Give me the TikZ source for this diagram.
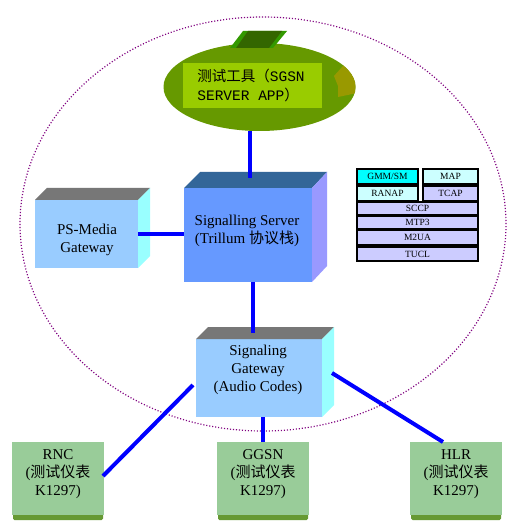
\documentclass[tikz,border=0pt]{standalone}
\usepackage{fontspec}
\setmainfont{Liberation Serif}
\newfontfamily\cjk{Noto Sans CJK SC}
\newfontfamily\monof{Liberation Mono}
\usetikzlibrary{shapes.geometric,calc}
\definecolor{ringcol}{HTML}{800080}
\definecolor{appgreen}{HTML}{669900}
\definecolor{paddark}{HTML}{336600}
\definecolor{padside}{HTML}{339900}
\definecolor{olive}{HTML}{999900}
\definecolor{applbl}{HTML}{99CC00}
\definecolor{ssfront}{HTML}{6699FF}
\definecolor{sstop}{HTML}{336699}
\definecolor{ssside}{HTML}{9999FF}
\definecolor{gwfront}{HTML}{99CCFF}
\definecolor{gwtop}{HTML}{777777}
\definecolor{gwside}{HTML}{99FFFF}
\definecolor{boxgreen}{HTML}{99CC99}
\definecolor{stripgreen}{HTML}{669933}
\definecolor{linkblue}{HTML}{0000FF}
\definecolor{stkcyan}{HTML}{00FFFF}
\definecolor{stklcyan}{HTML}{CCFFFF}
\definecolor{stklav}{HTML}{CCCCFF}
\tikzset{
  face/.style={inner sep=0pt, outer sep=0pt},
  lbl/.style={align=center, font=\fontsize{15bp}{18bp}\selectfont, inner sep=0pt},
  link/.style={draw=linkblue, line width=4bp},
  stk/.style={draw=black, line width=1.1bp, inner sep=0pt, outer sep=0pt, font=\fontsize{9.5bp}{10bp}\selectfont},
}
\begin{document}
\begin{tikzpicture}[x=1bp,y=-1bp]
\useasboundingbox (0,0) rectangle (528,527);
\fill[white] (0,0) rectangle (528,527);

% dotted ring
\node[ellipse, draw=ringcol, line width=1.2bp, dash pattern=on 1.1bp off 1.9bp,
      minimum width=486bp, minimum height=414bp, inner sep=0pt] (ring) at (263,224) {};

% application ellipse
\node[ellipse, fill=appgreen, minimum width=192bp, minimum height=88bp, inner sep=0pt] (app) at (259.5,87) {};
\fill[padside] (243,31) -- (287,31) -- (273,48) -- (230,48) -- cycle;
\fill[paddark] (248,31) -- (282,31) -- (269,48) -- (236,48) -- cycle;
\begin{scope}
  \clip (app.center) ellipse [x radius=96, y radius=44];
  \fill[olive] (334,76) -- (351,57) -- (362,68) -- (362,92) -- (338,97) -- (338,86) -- cycle;
\end{scope}
\node[fill=applbl, minimum width=139bp, minimum height=45bp, inner sep=0pt] (applabel) at (252.5,85.5) {};
\node[align=left, inner sep=0pt, font=\fontsize{14.5bp}{19bp}\selectfont] (apptext) at (251,85)
  {{\cjk 测试工具（}\monof SGSN\\\monof SERVER APP{\cjk ）}};

% Signalling Server
\node[face, fill=ssfront, minimum width=128bp, minimum height=94bp] (ss) at (248,235) {};
\fill[sstop] (ss.north west) -- ++(16,-16) -- ($(ss.north east)+(15,-16)$) -- (ss.north east) -- cycle;
\fill[ssside] (ss.north east) -- ++(15,-16) -- ++(0,94) -- (ss.south east) -- cycle;
\node[lbl] (sstext) at (247,231) {Signalling Server\\(Trillum {\cjk 协议栈})};

% PS-Media Gateway
\node[face, fill=gwfront, minimum width=103bp, minimum height=68bp] (psm) at (86.5,234) {};
\fill[gwtop] (psm.north west) -- ++(12,-12) -- ($(psm.north east)+(12,-12)$) -- (psm.north east) -- cycle;
\fill[gwside] (psm.north east) -- ++(12,-12) -- ++(0,68) -- (psm.south east) -- cycle;
\node[lbl] (psmtext) at (87,240) {PS-Media\\Gateway};

% Signaling Gateway
\node[face, fill=gwfront, minimum width=126bp, minimum height=78bp] (sg) at (259,378) {};
\fill[gwtop] (sg.north west) -- ++(12,-12) -- ($(sg.north east)+(12,-12)$) -- (sg.north east) -- cycle;
\fill[gwside] (sg.north east) -- ++(12,-12) -- ++(0,78) -- (sg.south east) -- cycle;
\node[lbl] (sgtext) at (258,370) {Signaling\\Gateway\\(Audio Codes)};

% bottom boxes
\foreach \nm/\cx/\ttl in {rnc/58/RNC, ggsn/263/GGSN, hlr/456/HLR}{
  \fill[stripgreen, rounded corners=1.5bp] (\cx-45,512) rectangle (\cx+45,520);
  \node[face, fill=boxgreen, minimum width=92bp, minimum height=73bp] (\nm) at (\cx,478.5) {};
  \node[lbl] (\nm text) at (\cx,474) {\ttl\\({\cjk 测试仪表}\\K1297)};
}

% protocol stack
\node[stk, fill=stkcyan, minimum width=61bp, minimum height=15bp] (gmm) at (387.5,176.5) {GMM/SM};
\node[stk, fill=stklcyan, minimum width=55bp, minimum height=15bp] (map) at (450.5,176.5) {MAP};
\node[stk, fill=stklcyan, minimum width=61bp, minimum height=15bp] (ranap) at (387.5,193.5) {RANAP};
\node[stk, fill=stklav, minimum width=55bp, minimum height=15bp] (tcap) at (450.5,193.5) {TCAP};
\node[stk, fill=stklav, minimum width=121bp, minimum height=13bp] (sccp) at (417.5,208.5) {SCCP};
\node[stk, fill=stklav, minimum width=121bp, minimum height=13bp] (mtp) at (417.5,222.5) {MTP3};
\node[stk, fill=stklav, minimum width=121bp, minimum height=15bp] (m2ua) at (417.5,237.5) {M2UA};
\node[stk, fill=stklav, minimum width=121bp, minimum height=14bp] (tucl) at (417.5,254) {TUCL};

% connectors
\coordinate (ssin) at ($(ss.north)+(2,-10)$);
\coordinate (ssout) at ($(ss.south)+(5,0)$);
\coordinate (sgin) at ($(sg.north)+(-6,-6)$);
\coordinate (sgl) at ($(sg.west)+(-3,7)$);
\coordinate (sgr) at ($(sg.east)+(10,-5)$);
\coordinate (hlrin) at ($(hlr.north)+(-13,0)$);
\coordinate (rncout) at ($(rnc.east)+(-1,-2.5)$);
\draw[link] (app.south -| ssin) -- (ssin);
\draw[link] (psm.east) -- (psm.east -| ss.west);
\draw[link] (ssout) -- (ssout |- sgin);
\draw[link] (ggsn.north) -- (ggsn.north |- sg.south);
\draw[link] (rncout) -- (sgl);
\draw[link] (sgr) -- (hlrin);
\end{tikzpicture}
\end{document}
